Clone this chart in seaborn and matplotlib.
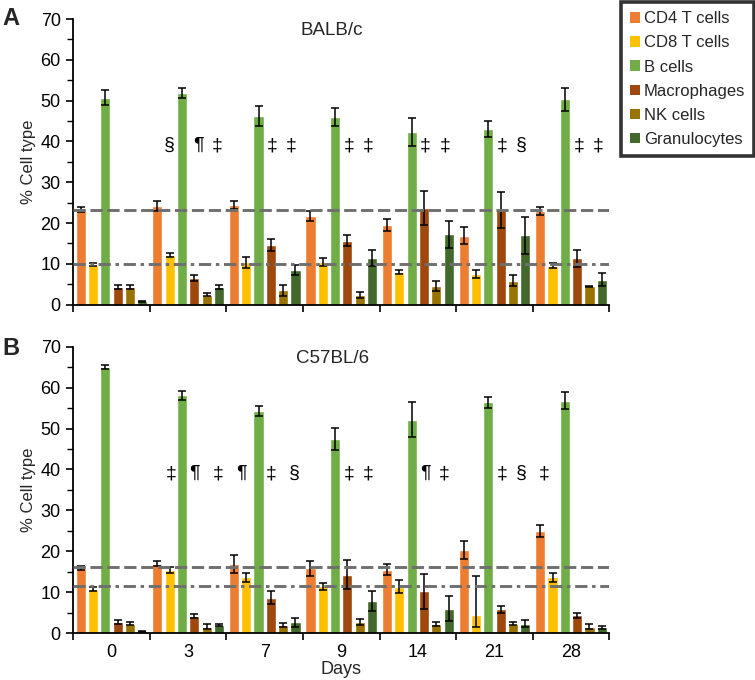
import matplotlib
matplotlib.use("Agg")
import matplotlib.pyplot as plt
from matplotlib.container import BarContainer
from matplotlib.patches import Patch
import numpy as np
import pandas as pd
import seaborn as sns

DAYS = ["0", "3", "7", "9", "14", "21", "28"]
CELL_TYPES = ["CD4 T cells", "CD8 T cells", "B cells", "Macrophages", "NK cells", "Granulocytes"]
COLORS = ["#ED7D31", "#FFC000", "#70AD47", "#9E480E", "#997300", "#43682B"]

# BALB/c: rows follow CELL_TYPES, columns follow DAYS
A_MEAN = [
    [23.3, 24.1, 24.4, 21.7, 19.6, 16.9, 23.0],
    [9.8, 12.2, 10.4, 10.4, 8.0, 7.6, 9.5],
    [50.7, 51.8, 46.3, 45.9, 42.3, 43.0, 50.3],
    [4.3, 6.5, 14.6, 15.7, 23.7, 23.2, 11.4],
    [4.3, 2.4, 3.5, 2.4, 4.6, 5.9, 4.5],
    [0.8, 4.4, 8.4, 11.4, 17.3, 17.0, 6.1],
]
A_ERR = [
    [0.7, 1.2, 1.0, 1.3, 1.5, 2.1, 1.0],
    [0.4, 0.5, 1.3, 1.0, 0.6, 1.0, 0.6],
    [1.8, 1.2, 2.4, 2.2, 3.4, 2.0, 2.9],
    [0.5, 0.7, 1.4, 1.3, 4.1, 4.3, 2.1],
    [0.5, 0.4, 1.4, 0.8, 1.3, 1.4, 0.1],
    [0.2, 0.5, 1.2, 1.9, 3.3, 4.5, 1.6],
]
A_LINES = [23.2, 10.0]

# C57BL/6
B_MEAN = [
    [16.0, 17.0, 16.8, 15.8, 15.5, 20.3, 25.0],
    [10.8, 15.5, 13.6, 11.4, 11.3, 4.3, 13.6],
    [65.0, 58.1, 54.3, 47.4, 52.2, 56.4, 56.8],
    [2.7, 4.1, 8.6, 14.3, 10.2, 5.8, 4.3],
    [2.3, 1.6, 1.9, 2.7, 2.3, 2.3, 1.6],
    [0.4, 1.9, 2.6, 7.8, 6.0, 2.3, 1.4],
]
B_ERR = [
    [0.5, 0.6, 2.2, 1.9, 1.4, 2.2, 1.4],
    [0.4, 0.7, 1.2, 0.8, 1.6, 9.7, 1.2],
    [0.5, 1.2, 1.3, 2.7, 4.2, 1.4, 2.1],
    [0.4, 0.5, 1.6, 3.5, 4.3, 0.8, 0.7],
    [0.3, 0.5, 0.5, 0.7, 0.5, 0.3, 0.5],
    [0.2, 0.2, 1.2, 2.4, 3.1, 0.8, 0.4],
]
B_CD8_D21_LOW = 2.8
B_LINES = [16.1, 11.4]

# significance marks: (day index, offset within group, symbol)
A_MARKS = [(1, -0.25, "§"), (1, 0.13, "¶"), (1, 0.38, "‡"),
           (2, 0.10, "‡"), (2, 0.35, "‡"), (3, 0.10, "‡"), (3, 0.35, "‡"),
           (4, 0.10, "‡"), (4, 0.35, "‡"), (5, 0.10, "‡"), (5, 0.35, "§"),
           (6, 0.10, "‡"), (6, 0.35, "‡")]
B_MARKS = [(1, -0.22, "‡"), (1, 0.08, "¶"), (1, 0.39, "‡"),
           (2, -0.31, "¶"), (2, 0.09, "‡"), (2, 0.39, "§"),
           (3, 0.10, "‡"), (3, 0.35, "‡"), (4, 0.10, "¶"), (4, 0.34, "‡"),
           (5, 0.10, "‡"), (5, 0.35, "§"), (6, -0.35, "‡")]

FONT = ["Liberation Sans", "DejaVu Sans"]


def to_long(mean):
    rows = []
    for ci, cell in enumerate(CELL_TYPES):
        for di, day in enumerate(DAYS):
            rows.append({"day": day, "cell": cell, "pct": mean[ci][di]})
    return pd.DataFrame(rows)


def panel(ax, mean, err, lines, marks, title, err_low=None):
    df = to_long(mean)
    sns.barplot(data=df, x="day", y="pct", hue="cell", order=DAYS,
                hue_order=CELL_TYPES, palette=COLORS, width=0.965, gap=0.18,
                errorbar=None, legend=False, ax=ax, saturation=1)
    bars = [c for c in ax.containers if isinstance(c, BarContainer)]
    for ci, cont in enumerate(bars):
        xs = [p.get_x() + p.get_width() / 2 for p in cont.patches]
        hi = np.array(err[ci])
        lo = hi.copy()
        if err_low is not None and ci == 1:
            lo[5] = err_low
        ax.errorbar(xs, mean[ci], yerr=[lo, hi], fmt="none", ecolor="black",
                    elinewidth=1.1, capsize=2.6, capthick=1.1, zorder=5)
    ax.axhline(lines[0], color="#6f6f6f", lw=2.1, dashes=(4.2, 1.6), zorder=6)
    ax.axhline(lines[1], color="#6f6f6f", lw=2.1, dashes=(4.2, 1.6, 1.2, 1.6), zorder=6)
    for di, off, sym in marks:
        ax.text(di + off, 39, sym, ha="center", va="center", fontsize=14,
                family=FONT, color="black")
    ax.text(2.88, 67.2, title, ha="center", va="center", fontsize=13.5, family=FONT)
    ax.set_ylim(0, 70)
    ax.set_xlim(-0.5, 6.5)
    ax.set_yticks(range(0, 71, 10))
    ax.set_yticks(range(5, 70, 10), minor=True)
    ax.set_xticks(np.arange(-0.5, 6.6, 1), minor=True)
    ax.tick_params(axis="x", which="major", bottom=False, length=0, pad=8)
    ax.tick_params(axis="x", which="minor", bottom=True, length=5, width=1.2,
                   direction="out", color="black")
    ax.tick_params(axis="y", which="major", left=True, length=5, width=1.2,
                   direction="out", color="black", pad=4)
    ax.tick_params(axis="y", which="minor", left=True, length=4, width=1.0,
                   direction="out", color="black")
    ax.set_ylabel("% Cell type", fontsize=12, family=FONT, labelpad=3)
    for s in ["top", "right"]:
        ax.spines[s].set_visible(False)
    for s in ["left", "bottom"]:
        ax.spines[s].set_color("black")
        ax.spines[s].set_linewidth(1.3)
    for lab in ax.get_xticklabels() + ax.get_yticklabels():
        lab.set_fontfamily(FONT)
        lab.set_fontsize(13)
        lab.set_color("black")


sns.set_theme(style="white")
plt.rcParams["font.family"] = FONT

fig = plt.figure(figsize=(7.55, 6.8), dpi=100)
ax_a = fig.add_axes([0.097, 0.552, 0.71, 0.420])
ax_b = fig.add_axes([0.097, 0.069, 0.71, 0.421])

panel(ax_a, A_MEAN, A_ERR, A_LINES, A_MARKS, "BALB/c")
panel(ax_b, B_MEAN, B_ERR, B_LINES, B_MARKS, "C57BL/6", err_low=B_CD8_D21_LOW)

ax_a.set_xlabel("")
ax_a.set_xticklabels([])
ax_b.set_xlabel("Days", fontsize=13, family=FONT, labelpad=0)

fig.text(0.003, 0.99, "A", fontsize=17, fontweight="bold", va="top", family=FONT)
fig.text(0.003, 0.505, "B", fontsize=17, fontweight="bold", va="top", family=FONT)

handles = [Patch(facecolor=c, edgecolor="none", label=l) for c, l in zip(COLORS, CELL_TYPES)]
leg = fig.legend(handles=handles, loc="upper left", bbox_to_anchor=(0.822, 0.997),
                 frameon=True, fancybox=False, handlelength=0.6,
                 handleheight=0.6, handletextpad=0.25, labelspacing=0.55,
                 borderpad=0.55, borderaxespad=0, prop={"family": FONT, "size": 12})
leg.get_frame().set_edgecolor("black")
leg.get_frame().set_linewidth(2.6)

fig.savefig("out.png", dpi=100)
